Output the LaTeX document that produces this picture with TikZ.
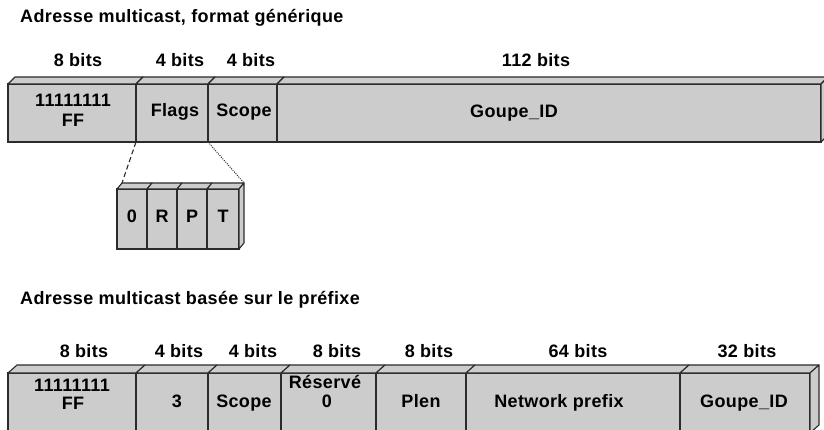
\documentclass[tikz,border=0pt]{standalone}
\usepackage{fontspec}
\newfontfamily\lblfont{Liberation Sans}[LetterSpace=2]
\usetikzlibrary{calc}

\definecolor{edge}{HTML}{2B2B2B}
\definecolor{boxgray}{HTML}{CCCCCC}

% top and right faces of a 3D cell: node, depth x, depth y
\newcommand\topface[3]{%
  \filldraw[face] (#1.north west) -- ++(#2,-#3) -- ($(#1.north east)+(#2,-#3)$) -- (#1.north east) -- cycle;}
\newcommand\sideface[3]{%
  \filldraw[face] (#1.north east) -- ++(#2,-#3) -- ($(#1.south east)+(#2,-#3)$) -- (#1.south east) -- cycle;}

\tikzset{
  cell/.style={draw=edge, fill=boxgray, line width=1.1pt, inner sep=0pt, outer sep=0pt,
               anchor=north west},
  face/.style={draw=edge, fill=boxgray, line width=1.1pt, line join=round},
  txt/.style={font=\lblfont\bfseries\fontsize{18pt}{21pt}\selectfont, anchor=base,
              inner sep=0pt, text=black},
  title/.style={txt, anchor=base west},
  zoomdash/.style={draw=edge, line width=1.1pt, dash pattern=on 5pt off 3pt},
  zoomdot/.style={draw=edge, line width=1pt, dash pattern=on 1pt off 1.2pt},
}

\begin{document}
\begin{tikzpicture}[x=1pt, y=-1pt]
\useasboundingbox (0,0) rectangle (824,430);
\clip (0,0) rectangle (824,430);

% ---------- generic format ----------
\node[title] (title1) at (20,23) {Adresse multicast, format générique};

\node[txt] (l1) at (78,67)  {8 bits};
\node[txt] (l2) at (180,67) {4 bits};
\node[txt] (l3) at (251,67) {4 bits};
\node[txt] (l4) at (536,67) {112 bits};

\node[cell, minimum width=128pt, minimum height=58pt] (t1) at (8,84)   {};
\node[cell, minimum width=72pt,  minimum height=58pt] (t2) at (136,84) {};
\node[cell, minimum width=69pt,  minimum height=58pt] (t3) at (208,84) {};
\node[cell, minimum width=544pt, minimum height=58pt] (t4) at (277,84) {};
\foreach \c in {t1,t2,t3,t4} {\topface{\c}{7}{7}}
\sideface{t4}{7}{7}

\node[txt] (t1a) at (73,106.5) {11111111};
\node[txt] (t1b) at (73,127)   {FF};
\node[txt] (t2a) at (175,117)  {Flags};
\node[txt] (t3a) at (244,117)  {Scope};
\node[txt] (t4a) at (514,118)  {Goupe\_ID};

% flag bits
\node[cell, minimum width=30pt, minimum height=60pt] (s1) at (117,189) {};
\node[cell, minimum width=30pt, minimum height=60pt] (s2) at (147,189) {};
\node[cell, minimum width=30pt, minimum height=60pt] (s3) at (177,189) {};
\node[cell, minimum width=32pt, minimum height=60pt] (s4) at (207,189) {};
\foreach \c in {s1,s2,s3,s4} {\topface{\c}{5}{6}}
\sideface{s4}{5}{6}

\node[txt] (s1a) at (132,223) {0};
\node[txt] (s2a) at (162,223) {R};
\node[txt] (s3a) at (192,223) {P};
\node[txt] (s4a) at (223,223) {T};

\coordinate (s1top) at ($(s1.north west)+(5,-6)$);
\coordinate (s4top) at ($(s4.north east)+(5,-6)$);
\draw[zoomdash] (t2.south west) -- (s1top);
\draw[zoomdot]  (t3.south west) -- (s4top);

% ---------- prefix-based format ----------
\node[title] (title2) at (20,304) {Adresse multicast basée sur le préfixe};

\node[txt] (m1) at (84,357)  {8 bits};
\node[txt] (m2) at (179,357) {4 bits};
\node[txt] (m3) at (253,357) {4 bits};
\node[txt] (m4) at (337,357) {8 bits};
\node[txt] (m5) at (429,357) {8 bits};
\node[txt] (m6) at (578,357) {64 bits};
\node[txt] (m7) at (747,357) {32 bits};

\node[cell, minimum width=128pt, minimum height=60pt] (b1) at (8,373)   {};
\node[cell, minimum width=72pt,  minimum height=60pt] (b2) at (136,373) {};
\node[cell, minimum width=73pt,  minimum height=60pt] (b3) at (208,373) {};
\node[cell, minimum width=95pt,  minimum height=60pt] (b4) at (281,373) {};
\node[cell, minimum width=90pt,  minimum height=60pt] (b5) at (376,373) {};
\node[cell, minimum width=214pt, minimum height=60pt] (b6) at (466,373) {};
\node[cell, minimum width=130pt, minimum height=60pt] (b7) at (680,373) {};
\foreach \c in {b1,b2,b3,b4,b5,b6,b7} {\topface{\c}{9}{8}}
\sideface{b7}{9}{8}

\node[txt] (b1a) at (72,391.5) {11111111};
\node[txt] (b1b) at (73,409)   {FF};
\node[txt] (b2a) at (177,407)  {3};
\node[txt] (b3a) at (244,407)  {Scope};
\node[txt] (b4a) at (325,388)  {Réservé};
\node[txt] (b4b) at (327,407)  {0};
\node[txt] (b5a) at (421,407)  {Plen};
\node[txt] (b6a) at (559,407)  {Network prefix};
\node[txt] (b7a) at (744,407)  {Goupe\_ID};
\end{tikzpicture}
\end{document}
